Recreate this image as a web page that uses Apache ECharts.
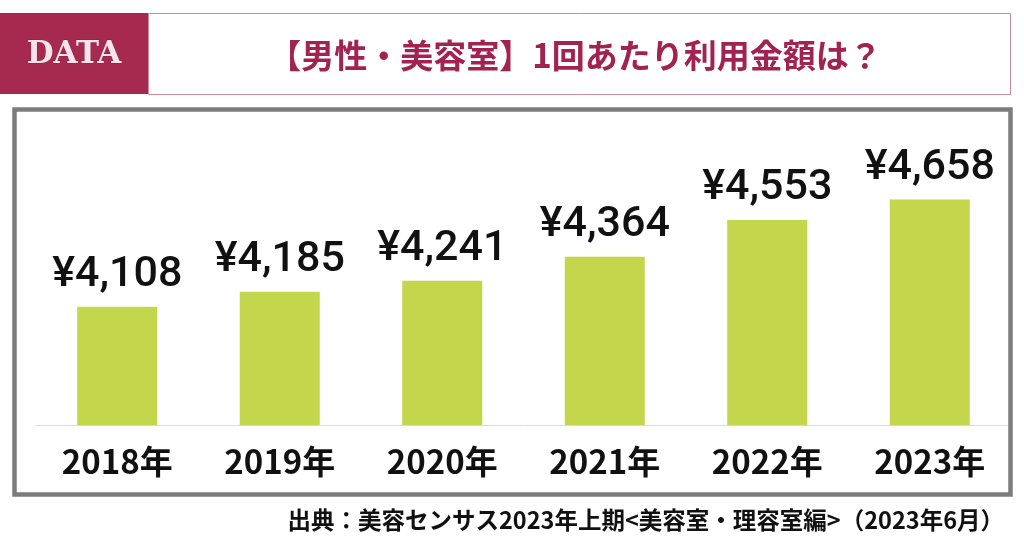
<!DOCTYPE html>
<html>
<head>
<meta charset="utf-8">
<script src="https://cdn.jsdelivr.net/npm/echarts@6/dist/echarts.min.js"></script>
<style>
html,body{margin:0;padding:0;background:#fff;}
#c{width:1024px;height:544px;}
</style>
</head>
<body>
<div id="c"></div>
<script>
var categories = ['2018年','2019年','2020年','2021年','2022年','2023年'];
var values = [4108, 4185, 4241, 4364, 4553, 4658];
var titleText = '【男性・美容室】1回あたり利用金額は？';
var sourceText = '出典：美容センサス2023年上期<美容室・理容室編>（2023年6月）';

var chart = echarts.init(document.getElementById('c'), null, {renderer:'canvas'});
chart.setOption({
  backgroundColor: '#ffffff',
  animation: false,
  grid: {left: 36, right: 13, top: 133, bottom: 119, containLabel: false},
  xAxis: {
    type: 'category',
    data: categories,
    axisTick: {show: false},
    axisLine: {show: true, lineStyle: {color: '#d9d9d9', width: 1}},
    axisLabel: {
      color: '#111', fontSize: 33, fontWeight: 'bold',
      fontFamily: '"Noto Sans CJK JP", sans-serif', margin: 20
    }
  },
  yAxis: {
    type: 'value', min: 3500, max: 5000, show: false,
    splitLine: {show: false}
  },
  series: [{
    type: 'bar',
    data: values,
    barWidth: 80,
    itemStyle: {color: '#c4d64b'},
    label: {
      show: true, position: 'top', distance: 10,
      color: '#111', fontSize: 43, fontWeight: 500,
      fontFamily: 'Roboto, "Liberation Sans", Arial, sans-serif',
      formatter: function(p){ return '¥' + p.value.toLocaleString('en-US'); }
    }
  }],
  graphic: [
    {type: 'rect', shape: {x: 0, y: 13, width: 148, height: 81},
     style: {fill: '#a6294f'}, z: 10},
    {type: 'rect', shape: {x: 148.5, y: 13.5, width: 862, height: 81},
     style: {fill: '#fff', stroke: '#c98da0', lineWidth: 1}, z: 10},
    {type: 'text', x: 74, y: 55, z: 11,
     style: {text: 'DATA', fill: '#f6e4ea', stroke: '#7a1a38', lineWidth: 0.5,
       font: 'bold 31px "DejaVu Serif", serif', align: 'center', verticalAlign: 'middle'}},
    {type: 'text', x: 575, y: 55, z: 11,
     style: {text: titleText, fill: '#a2234f',
       font: 'bold 33px "Noto Sans CJK JP", sans-serif', align: 'center', verticalAlign: 'middle'}},
    {type: 'rect', shape: {x: 14.5, y: 109.5, width: 996, height: 385},
     style: {fill: 'none', stroke: '#7c7c7c', lineWidth: 4.5}, z: 10},
    {type: 'text', x: 1004, y: 520, z: 11,
     style: {text: sourceText, fill: '#111',
       font: 'bold 23.5px "Noto Sans CJK JP", sans-serif', align: 'right', verticalAlign: 'middle'}}
  ]
});
</script>
</body>
</html>
